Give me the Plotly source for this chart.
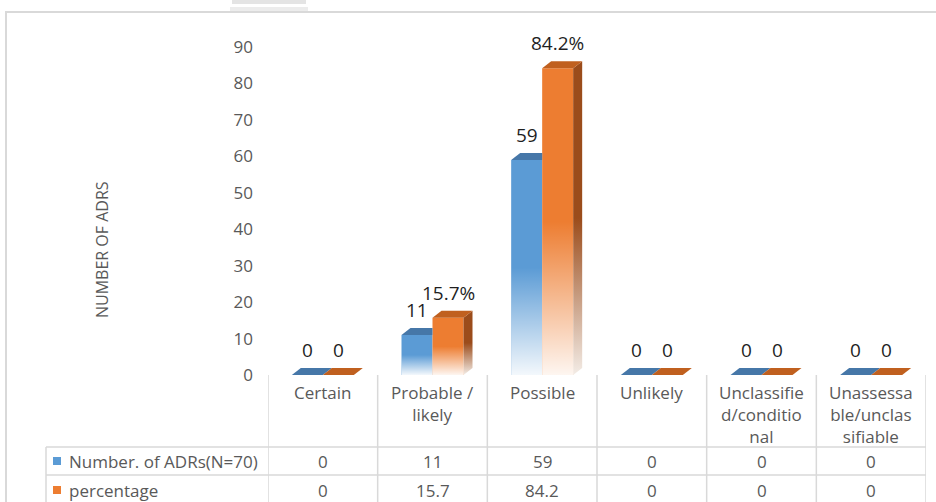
import plotly.graph_objects as go

# ---- data -------------------------------------------------------------
categories = [
    "Certain",
    "Probable /<br>likely",
    "Possible",
    "Unlikely",
    "Unclassifie<br>d/conditio<br>nal",
    "Unassessa<br>ble/unclas<br>sifiable",
]
n_adrs = [0, 11, 59, 0, 0, 0]
percentage = [0, 15.7, 84.2, 0, 0, 0]
series_names = ["Number. of ADRs(N=70)", "percentage"]
y_ticks = [0, 10, 20, 30, 40, 50, 60, 70, 80, 90]
axis_title = "NUMBER OF ADRS"

# ---- styling ----------------------------------------------------------
FRONT = ["#5b9bd5", "#ed7d31"]
TOP = ["#4677a8", "#c0601f"]
SIDE = ["#3a6a9a", "#9b4c1b"]
GRID = "#d9d9d9"
TXT = "#595959"
FONT = "Open Sans"
FS = 17

W, H = 936, 502
ML, MR, MT, MB = 268, 10, 47, 127
PW, PH = W - ML - MR, H - MT - MB
Y_MAX = 90
N = len(categories)
UX = PW / N          # px per category
UY = PH / Y_MAX      # px per y unit
BAR_W = 31 / UX      # width of one bar (data units)
DX = 9 / UX          # 3-D depth offset, horizontal
DY = 7 / UY          # 3-D depth offset, vertical


def pxx(p):
    """pixel column -> paper x"""
    return (p - ML) / PW


def pxy(p):
    """pixel row -> paper y"""
    return (H - MB - p) / PH


def fmt_pct(v):
    return f"{v}%" if v else "0"


def fmt_num(v):
    return f"{v:g}"


series = [n_adrs, percentage]
label_fmt = [fmt_num, fmt_num]
bar_label_fmt = [fmt_num, fmt_pct]

fig = go.Figure()

# front faces of the columns
for s, vals in enumerate(series):
    fig.add_trace(go.Bar(
        x=list(range(N)), y=vals, width=BAR_W, offset=-BAR_W + s * BAR_W,
        marker=dict(color=FRONT[s], line=dict(width=0)),
        name=series_names[s], hoverinfo="x+y",
    ))

fade = [[0, "rgba(255,255,255,0.93)"], [0.5, "rgba(255,255,255,0)"],
        [1, "rgba(255,255,255,0)"]]

# 3-D side faces, top faces and the white fade towards the base
for i in range(N):
    for s, vals in enumerate(series):
        v = vals[i]
        left = i - BAR_W + s * BAR_W
        right = left + BAR_W
        nxt = series[s + 1][i] if s + 1 < len(series) else None
        lower = nxt if nxt is not None else 0
        if v > lower:
            fig.add_trace(go.Scatter(
                x=[right, right, right + DX, right + DX, right],
                y=[lower, v, v + DY, lower + DY, lower],
                mode="lines", line=dict(width=0), fill="toself",
                fillgradient=dict(type="vertical", colorscale=[
                    [0, "#f3ece6"], [0.5, SIDE[s]], [1, SIDE[s]]]),
                hoverinfo="skip", showlegend=False,
            ))
        clip = nxt is not None and nxt > v
        fig.add_trace(go.Scatter(
            x=[left, left + DX, (right if clip else right + DX), right, left],
            y=[v, v + DY, v + DY, v, v],
            mode="lines", line=dict(width=0), fill="toself",
            fillcolor=TOP[s], hoverinfo="skip", showlegend=False,
        ))
        if v > 0:
            fig.add_trace(go.Scatter(
                x=[left, right, right, left, left],
                y=[0, 0, v, v, 0],
                mode="lines", line=dict(width=0), fill="toself",
                fillgradient=dict(type="vertical", colorscale=fade),
                hoverinfo="skip", showlegend=False,
            ))

annotations = []

# value labels above each column
for s, vals in enumerate(series):
    for i, v in enumerate(vals):
        annotations.append(dict(
            x=i - BAR_W / 2 + s * BAR_W, y=v, xref="x", yref="y",
            text=bar_label_fmt[s](v), showarrow=False,
            xanchor="center", yanchor="bottom", yshift=10,
            font=dict(family=FONT, size=19, color="#1f1f1f"),
        ))

# category headers of the data table
for i, c in enumerate(categories):
    annotations.append(dict(
        x=i, y=pxy(379), xref="x", yref="paper", text=c, showarrow=False,
        xanchor="center", yanchor="top", align="center",
        font=dict(family=FONT, size=FS, color=TXT),
    ))

# data table rows
row_y = [461, 490]
for s, vals in enumerate(series):
    annotations.append(dict(
        x=pxx(67), y=pxy(row_y[s]), xref="paper", yref="paper",
        text=series_names[s], showarrow=False,
        xanchor="left", yanchor="middle",
        font=dict(family=FONT, size=FS, color=TXT),
    ))
    for i, v in enumerate(vals):
        annotations.append(dict(
            x=i, y=pxy(row_y[s]), xref="x", yref="paper",
            text=label_fmt[s](v), showarrow=False,
            xanchor="center", yanchor="middle",
            font=dict(family=FONT, size=FS, color=TXT),
        ))

# y-axis title
annotations.append(dict(
    x=pxx(102), y=pxy(250), xref="paper", yref="paper", text=axis_title,
    showarrow=False, textangle=-90, xanchor="center", yanchor="middle",
    font=dict(family="Liberation Sans Narrow, Open Sans", size=16, color=TXT),
))

shapes = []
line = dict(color=GRID, width=1.5)
# table grid
for k in range(N + 1):
    shapes.append(dict(type="line", xref="x", yref="paper",
                       x0=k - 0.5, x1=k - 0.5, y0=pxy(375), y1=pxy(H), line=line))
shapes.append(dict(type="line", xref="paper", yref="paper",
                   x0=pxx(46), x1=pxx(46), y0=pxy(447), y1=pxy(H), line=line))
for yy in (447, 475):
    shapes.append(dict(type="line", xref="paper", yref="paper",
                       x0=pxx(46), x1=1, y0=pxy(yy), y1=pxy(yy), line=line))
# legend keys in the table
for s in range(len(series)):
    shapes.append(dict(type="rect", xref="paper", yref="paper",
                       x0=pxx(53), x1=pxx(61), y0=pxy(row_y[s] + 4), y1=pxy(row_y[s] - 4),
                       fillcolor=FRONT[s], line=dict(width=0)))
# chart frame
frame = dict(color=GRID, width=2)
shapes.append(dict(type="line", xref="paper", yref="paper",
                   x0=pxx(5), x1=pxx(W), y0=pxy(12), y1=pxy(12), line=frame))
shapes.append(dict(type="line", xref="paper", yref="paper",
                   x0=pxx(6), x1=pxx(6), y0=pxy(12), y1=pxy(H), line=frame))
# title placeholder tab at the top edge
shapes.append(dict(type="rect", xref="paper", yref="paper",
                   x0=pxx(232), x1=pxx(306), y0=pxy(4), y1=pxy(0),
                   fillcolor="#e4e4e4", line=dict(width=0)))
shapes.append(dict(type="rect", xref="paper", yref="paper",
                   x0=pxx(230), x1=pxx(308), y0=pxy(11), y1=pxy(7),
                   fillcolor="#ececec", line=dict(width=0)))

fig.update_layout(
    width=W, height=H,
    margin=dict(l=ML, r=MR, t=MT, b=MB, pad=0),
    paper_bgcolor="white", plot_bgcolor="white",
    barmode="overlay", showlegend=False,
    xaxis=dict(range=[-0.5, N - 0.5], visible=False, fixedrange=True),
    yaxis=dict(range=[0, Y_MAX], tickvals=y_ticks, showgrid=False,
               zeroline=False, showline=False, ticks="",
               ticklabelstandoff=14,
               tickfont=dict(family=FONT, size=FS, color=TXT), fixedrange=True),
    annotations=annotations, shapes=shapes,
)

fig.write_html("out.html", config={"displayModeBar": False})
